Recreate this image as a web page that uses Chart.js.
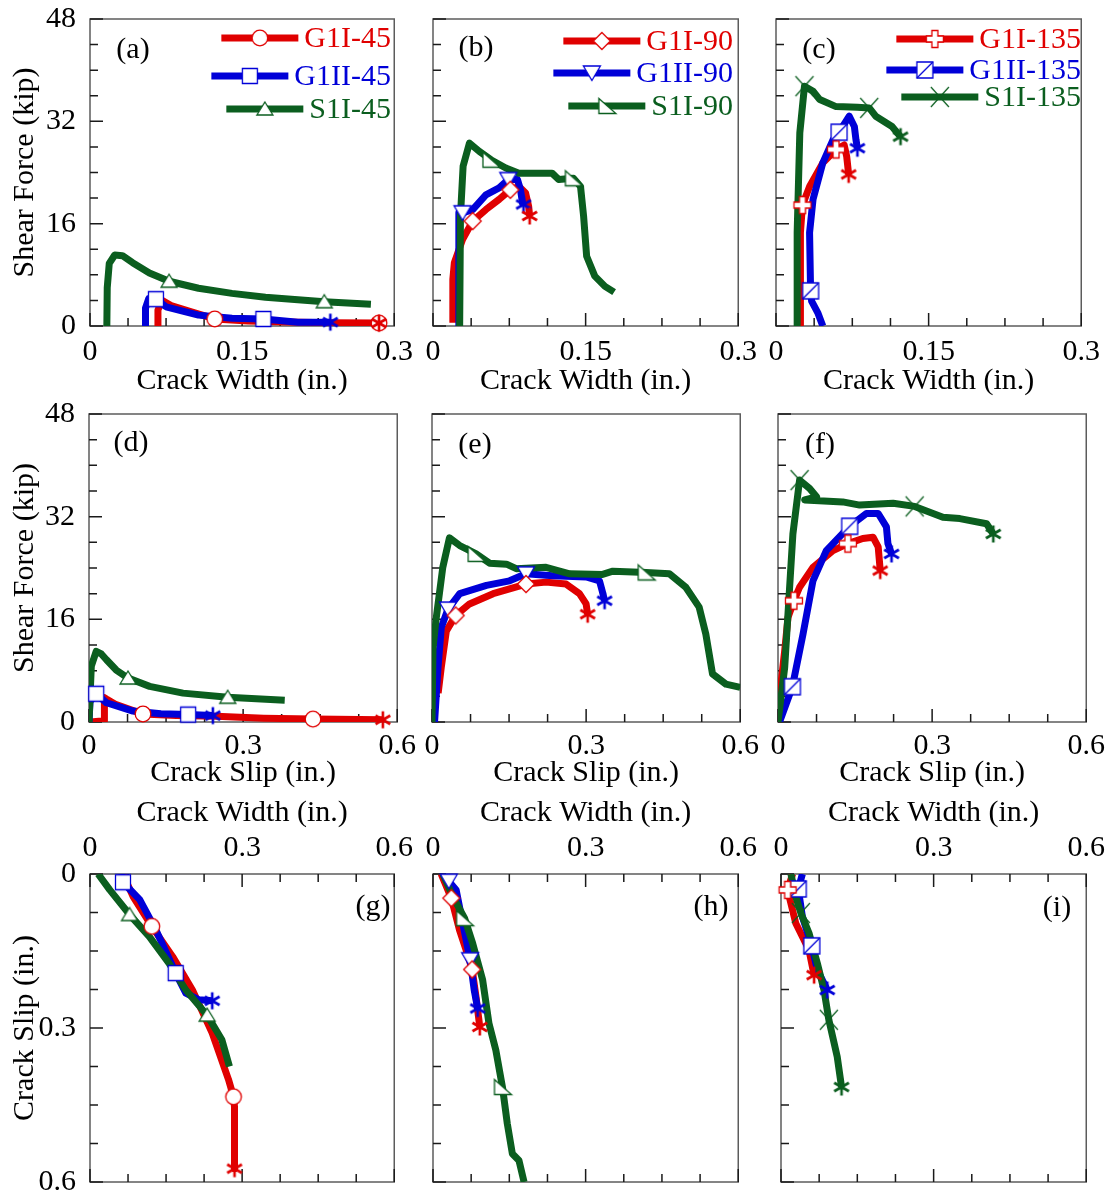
<!DOCTYPE html>
<html><head><meta charset="utf-8">
<script src="https://cdn.jsdelivr.net/npm/chart.js@4.4.0/dist/chart.umd.min.js"></script>
<style>
html,body{margin:0;padding:0;background:#fff;width:1114px;height:1194px;overflow:hidden;position:relative}
canvas{position:absolute}
</style></head><body>
<script>
// ---------- tick labels ----------
const xTicksWidthTop = [0, 0.15, 0.3];
const xTicksWide = [0, 0.3, 0.6];
const yTicksForce = [0, 16, 32, 48];
const yTicksSlip = [0, 0.3, 0.6];

// ---------- legend names ----------
const names45 = ['G1I-45', 'G1II-45', 'S1I-45'];
const names90 = ['G1I-90', 'G1II-90', 'S1I-90'];
const names135 = ['G1I-135', 'G1II-135', 'S1I-135'];

// ---------- (a) shear force vs crack width, 45 ----------
const a_G1I = [[0.067,0],[0.067,2.5],[0.071,4.0],[0.08,3.2],[0.1,2.2],[0.123,1.1],[0.156,0.8],[0.205,0.6],[0.237,0.5],[0.285,0.45]];
const a_G1I_mk = [[0.123,1.1],[0.285,0.45]];
const a_G1II = [[0.0547,0],[0.0547,2.8],[0.058,4.3],[0.065,4.2],[0.075,3.0],[0.107,1.7],[0.14,1.2],[0.171,1.1],[0.205,0.6],[0.237,0.6]];
const a_G1II_mk = [[0.065,4.2],[0.171,1.1]];
const a_S1I = [[0.0166,0],[0.017,6],[0.019,9.8],[0.0244,11.1],[0.032,11.0],[0.042,9.9],[0.0586,8.3],[0.078,7.0],[0.107,5.9],[0.14,5.1],[0.173,4.5],[0.205,4.1],[0.231,3.8],[0.277,3.4]];
const a_S1I_mk = [[0.078,7.0],[0.231,3.8]];

// ---------- (b) 90 ----------
const b_G1I = [[0.0195,0.5],[0.0195,7.3],[0.021,9.9],[0.029,13.5],[0.039,16.4],[0.052,18.2],[0.065,19.8],[0.076,21.3],[0.0845,21.8],[0.091,20.8],[0.094,18.7],[0.095,17.2]];
const b_G1I_mk = [[0.039,16.4],[0.076,21.3]];
const b_G1II = [[0.0254,0],[0.0254,17.7],[0.029,17.7],[0.039,18.2],[0.052,20.5],[0.065,21.6],[0.074,22.9],[0.083,22.9],[0.086,21.3],[0.088,19.2],[0.089,19.0]];
const b_G1II_mk = [[0.029,17.7],[0.074,22.9]];
const b_S1I = [[0.0262,0],[0.027,17.2],[0.0296,25],[0.0358,28.6],[0.0455,27.3],[0.0569,26.0],[0.0715,24.7],[0.0845,23.9],[0.117,23.9],[0.1235,22.9],[0.138,23.1],[0.145,21.8],[0.148,17.2],[0.151,10.9],[0.159,7.8],[0.169,6.2],[0.178,5.3]];
const b_S1I_mk = [[0.0569,26.0],[0.138,23.1]];

// ---------- (c) 135 ----------
const c_G1I = [[0.024,0],[0.024,14.6],[0.026,18.9],[0.033,21.8],[0.046,25.5],[0.059,27.6],[0.067,28.3],[0.0695,26.5],[0.0714,23.7]];
const c_G1I_mk = [[0.026,18.9],[0.059,27.6]];
const c_G1II = [[0.046,0],[0.041,2.1],[0.035,3.9],[0.034,5.5],[0.033,14.6],[0.0364,19.8],[0.046,25.5],[0.056,29.1],[0.062,30.3],[0.072,32.8],[0.077,31.2],[0.0786,29.1],[0.080,27.8]];
const c_G1II_mk = [[0.034,5.5],[0.062,30.3]];
const c_S1I = [[0.0208,0],[0.0208,3.6],[0.0208,14.6],[0.0234,30.2],[0.028,37.5],[0.0364,36.7],[0.043,35.4],[0.059,34.3],[0.08,34.2],[0.0916,34.1],[0.098,32.8],[0.114,31.2],[0.1224,29.6]];
const c_S1I_mk = [[0.028,37.5],[0.0916,34.1]];

// ---------- (d) shear force vs crack slip, 45 ----------
const d_G1I = [[0.003,0],[0.03,0.2],[0.03,3.8],[0.034,3.6],[0.053,2.7],[0.105,1.25],[0.17,1.0],[0.248,0.9],[0.34,0.6],[0.436,0.45],[0.572,0.35]];
const d_G1I_mk = [[0.105,1.25],[0.436,0.45]];
const d_G1II = [[0.0,0],[0.002,3.2],[0.014,4.4],[0.034,3.0],[0.0856,1.7],[0.14,1.3],[0.193,1.15],[0.241,1.0]];
const d_G1II_mk = [[0.014,4.4],[0.193,1.15]];
const d_S1I = [[0.0,0],[0.0045,8.7],[0.014,11.0],[0.024,10.6],[0.034,9.7],[0.053,8.1],[0.076,6.85],[0.118,5.55],[0.183,4.5],[0.27,3.85],[0.381,3.4]];
const d_S1I_mk = [[0.076,6.85],[0.27,3.85]];

// ---------- (e) 90 ----------
const e_G1I = [[0.012,4.5],[0.018,8.5],[0.028,14.2],[0.046,16.6],[0.073,18.4],[0.119,20.0],[0.183,21.5],[0.222,21.8],[0.261,21.5],[0.287,20.0],[0.30,18.4],[0.303,16.8]];
const e_G1I_mk = [[0.046,16.6],[0.183,21.5]];
const e_G1II = [[0.005,0],[0.0117,8.5],[0.018,14.7],[0.031,17.6],[0.054,20.0],[0.106,21.3],[0.151,22.0],[0.183,23.1],[0.235,22.8],[0.30,22.6],[0.326,22.0],[0.331,20.5],[0.336,18.9]];
const e_G1II_mk = [[0.031,17.6],[0.183,23.1]];
const e_S1I = [[0,0],[0.002,11.6],[0.0084,16.3],[0.021,24.1],[0.034,28.7],[0.054,27.5],[0.086,26.2],[0.112,24.75],[0.145,24.6],[0.164,23.9],[0.222,24.1],[0.268,23.1],[0.332,23.0],[0.352,23.5],[0.417,23.3],[0.462,23.1],[0.494,21.0],[0.52,17.9],[0.533,13.7],[0.546,7.5],[0.572,5.9],[0.6,5.4]];
const e_S1I_mk = [[0.086,26.2],[0.417,23.3]];

// ---------- (f) 135 ----------
const f_G1I = [[0,0],[0.002,3.3],[0.013,11.1],[0.0195,16.3],[0.031,18.9],[0.042,21.0],[0.068,24.1],[0.107,26.7],[0.136,27.8],[0.165,28.6],[0.185,28.8],[0.195,27.3],[0.199,23.6]];
const f_G1I_mk = [[0.031,18.9],[0.136,27.8]];
const f_G1II = [[0.003,0],[0.028,5.5],[0.0487,13.7],[0.068,22.0],[0.094,26.7],[0.1395,30.5],[0.172,32.5],[0.195,32.5],[0.211,30.4],[0.214,27.8],[0.221,26.2]];
const f_G1II_mk = [[0.028,5.5],[0.1395,30.5]];
const f_S1I = [[0,0],[0.013,8.5],[0.029,29.3],[0.042,37.7],[0.0616,36.4],[0.075,35.1],[0.052,34.6],[0.126,34.3],[0.159,33.8],[0.224,34.1],[0.266,33.6],[0.321,31.9],[0.354,31.7],[0.406,30.9],[0.419,29.3]];
const f_S1I_mk = [[0.042,37.7],[0.266,33.6]];

// ---------- (g) crack slip vs crack width, 45 ----------
const g_G1I = [[0.065,0],[0.085,0.044],[0.122,0.102],[0.163,0.161],[0.202,0.226],[0.241,0.31],[0.273,0.40],[0.283,0.434],[0.285,0.454],[0.285,0.574]];
const g_G1I_mk = [[0.122,0.102],[0.283,0.434]];
const g_G1II = [[0.062,0],[0.065,0.016],[0.098,0.05],[0.13,0.109],[0.169,0.193],[0.189,0.232],[0.215,0.245],[0.241,0.247]];
const g_G1II_mk = [[0.065,0.016],[0.169,0.193]];
const g_S1I = [[0.016,0],[0.039,0.031],[0.078,0.079],[0.117,0.122],[0.156,0.174],[0.189,0.226],[0.231,0.275],[0.26,0.323],[0.275,0.375]];
const g_S1I_mk = [[0.078,0.079],[0.231,0.275]];

// ---------- (h) 90 ----------
const h_G1I = [[0.016,0],[0.036,0.047],[0.052,0.109],[0.065,0.148],[0.077,0.186],[0.0845,0.239],[0.092,0.298]];
const h_G1I_mk = [[0.036,0.047],[0.077,0.186]];
const h_G1II = [[0.0195,0],[0.031,0.014],[0.0455,0.031],[0.0585,0.096],[0.073,0.167],[0.081,0.226],[0.0878,0.262]];
const h_G1II_mk = [[0.031,0.014],[0.073,0.167]];
const h_S1I = [[0.0195,0],[0.039,0.044],[0.062,0.086],[0.078,0.135],[0.0975,0.206],[0.11,0.291],[0.1235,0.343],[0.1365,0.415],[0.146,0.486],[0.156,0.545],[0.169,0.558],[0.179,0.6]];
const h_S1I_mk = [[0.062,0.086],[0.1365,0.415]];

// ---------- (i) 135 ----------
const i_G1I = [[0.0228,0],[0.013,0.031],[0.029,0.096],[0.055,0.148],[0.065,0.197]];
const i_G1I_mk = [[0.013,0.031]];
const i_G1II = [[0.042,0],[0.034,0.029],[0.042,0.083],[0.0605,0.14],[0.0715,0.187],[0.091,0.226]];
const i_G1II_mk = [[0.034,0.029],[0.0605,0.14]];
const i_S1I = [[0.0195,0],[0.029,0.044],[0.039,0.076],[0.055,0.115],[0.0715,0.174],[0.0845,0.226],[0.094,0.284],[0.1105,0.356],[0.119,0.415]];
const i_S1I_mk = [[0.039,0.076],[0.094,0.284]];

// ---------- styling ----------
const RED = '#e00000', BLUE = '#0000d8', GREEN = '#0b5e1f';
const FAMILY = '"Liberation Serif", "Times New Roman", serif';
const FONT = {family: FAMILY, size: 30, lineHeight: 1.2};

const markerCache = {};
function markerCanvas(shape, color) {
  const key = shape + color;
  if (markerCache[key]) return markerCache[key];
  const s = 26;
  const c = document.createElement('canvas');
  c.width = s; c.height = s;
  const g = c.getContext('2d');
  g.translate(s / 2, s / 2);
  g.strokeStyle = color; g.fillStyle = '#fff'; g.lineWidth = 1.3;
  g.beginPath();
  if (shape === 'circle') { g.arc(0, 0, 7.8, 0, Math.PI * 2); g.fill(); g.stroke(); }
  else if (shape === 'square') { g.rect(-7.5, -7.5, 15, 15); g.fill(); g.stroke(); }
  else if (shape === 'triUp') { g.moveTo(0, -7); g.lineTo(8, 6); g.lineTo(-8, 6); g.closePath(); g.fill(); g.stroke(); }
  else if (shape === 'diamond') { g.moveTo(0, -8.5); g.lineTo(8.5, 0); g.lineTo(0, 8.5); g.lineTo(-8.5, 0); g.closePath(); g.fill(); g.stroke(); }
  else if (shape === 'triDown') { g.moveTo(-8.5, -7); g.lineTo(8.5, -7); g.lineTo(0, 7.5); g.closePath(); g.fill(); g.stroke(); }
  else if (shape === 'triRight') { g.moveTo(-8, -7.5); g.lineTo(-8, 7.5); g.lineTo(9, 7.5); g.closePath(); g.fill(); g.stroke(); }
  else if (shape === 'cross') {
    const a = 3, b = 8.5;
    g.moveTo(-a, -b); g.lineTo(a, -b); g.lineTo(a, -a); g.lineTo(b, -a); g.lineTo(b, a); g.lineTo(a, a);
    g.lineTo(a, b); g.lineTo(-a, b); g.lineTo(-a, a); g.lineTo(-b, a); g.lineTo(-b, -a); g.lineTo(-a, -a); g.closePath();
    g.fill(); g.stroke();
  }
  else if (shape === 'squareDiag') {
    g.rect(-8, -8, 16, 16); g.fill(); g.stroke();
    g.beginPath(); g.moveTo(-8, 8); g.lineTo(8, -8); g.stroke();
  }
  else if (shape === 'x') { g.lineWidth = 1.2; g.moveTo(-9, -10); g.lineTo(9, 10); g.moveTo(9, -10); g.lineTo(-9, 10); g.stroke(); }
  else if (shape === 'ast') {
    g.lineWidth = 2.6; g.lineCap = 'butt';
    for (let k = 0; k < 3; k++) {
      const ang = Math.PI / 2 + k * Math.PI / 3;
      g.moveTo(Math.cos(ang) * 8.5, Math.sin(ang) * 8.5);
      g.lineTo(-Math.cos(ang) * 8.5, -Math.sin(ang) * 8.5);
    }
    g.stroke();
  }
  markerCache[key] = c;
  return c;
}

const ROWS = [
  {MT: 32, MB: 73, xTop: false, xmax: 0.3, xstep: 0.0375, xlabels: xTicksWidthTop, xtitle: 'Crack Width (in.)', xpad: 8,
   ymax: 48, ystep: 4, ylabels: yTicksForce, ytitle: 'Shear Force (kip)', rev: false},
  {MT: 32, MB: 69, xTop: false, xmax: 0.6, xstep: 0.075, xlabels: xTicksWide, xtitle: 'Crack Slip (in.)', xpad: 6,
   ymax: 48, ystep: 4, ylabels: yTicksForce, ytitle: 'Shear Force (kip)', rev: false},
  {MT: 79, MB: 40, xTop: true, xmax: 0.6, xstep: 0.075, xlabels: xTicksWide, xtitle: 'Crack Width (in.)', xpad: 8,
   ymax: 0.6, ystep: 0.075, ylabels: yTicksSlip, ytitle: 'Crack Slip (in.)', rev: true}
];
const SHAPES = [['circle', 'square', 'triUp'], ['diamond', 'triDown', 'triRight'], ['cross', 'squareDiag', 'x']];
const NAMES = [names45, names90, names135];
const COLORS = [RED, BLUE, GREEN];

const panels = [
  {label: '(a)', row: 1, col: 1, plot: [90, 19, 397, 326], lab: [133, 50], leg: {right: 391, rows: [38, 76, 109]},
   s: [[a_G1I, a_G1I_mk], [a_G1II, a_G1II_mk], [a_S1I, a_S1I_mk]]},
  {label: '(b)', row: 1, col: 2, plot: [433, 19, 741, 326], lab: [476, 48], leg: {right: 733, rows: [41, 73, 106]},
   s: [[b_G1I, b_G1I_mk], [b_G1II, b_G1II_mk], [b_S1I, b_S1I_mk]]},
  {label: '(c)', row: 1, col: 3, plot: [776, 19, 1084, 326], lab: [819, 50], leg: {right: 1081, rows: [39, 70, 97]},
   s: [[c_G1I, c_G1I_mk], [c_G1II, c_G1II_mk], [c_S1I, c_S1I_mk]]},
  {label: '(d)', row: 2, col: 1, plot: [89, 414, 398, 722], lab: [131, 443],
   s: [[d_G1I, d_G1I_mk], [d_G1II, d_G1II_mk], [d_S1I, d_S1I_mk]]},
  {label: '(e)', row: 2, col: 2, plot: [432, 414, 741, 722], lab: [475, 445],
   s: [[e_G1I, e_G1I_mk], [e_G1II, e_G1II_mk], [e_S1I, e_S1I_mk]]},
  {label: '(f)', row: 2, col: 3, plot: [778, 414, 1087, 722], lab: [820, 445],
   s: [[f_G1I, f_G1I_mk], [f_G1II, f_G1II_mk], [f_S1I, f_S1I_mk]]},
  {label: '(g)', row: 3, col: 1, plot: [90, 874, 397, 1182], lab: [373, 907],
   s: [[g_G1I, g_G1I_mk], [g_G1II, g_G1II_mk], [g_S1I, g_S1I_mk]]},
  {label: '(h)', row: 3, col: 2, plot: [433, 874, 741, 1182], lab: [711, 907],
   s: [[h_G1I, h_G1I_mk], [h_G1II, h_G1II_mk], [h_S1I, h_S1I_mk]]},
  {label: '(i)', row: 3, col: 3, plot: [781, 874, 1089, 1182], lab: [1057, 908],
   s: [[i_G1I, i_G1I_mk], [i_G1II, i_G1II_mk], [i_S1I, i_S1I_mk]]}
];

function isLabel(v, list) { return list.find(t => Math.abs(t - v) < 1e-6); }

const framePlugin = {
  id: 'frame',
  beforeDatasetsDraw(chart, args, o) {
    const {ctx, chartArea: {left, top, right, bottom}} = chart;
    const xs = chart.scales.x, ys = chart.scales.y;
    ctx.save();
    ctx.strokeStyle = '#5c5c5c'; ctx.lineWidth = 1.5;
    ctx.strokeRect(left, top, right - left, bottom - top);
    ctx.strokeStyle = '#1a1a1a'; ctx.lineWidth = 1.5;
    ctx.beginPath();
    ys.ticks.forEach(t => {
      const p = ys.getPixelForValue(t.value); const L = t.label ? 13 : 8;
      ctx.moveTo(left, p); ctx.lineTo(left + L, p);
    });
    xs.ticks.forEach(t => {
      const p = xs.getPixelForValue(t.value); const L = t.label ? 13 : 8;
      ctx.moveTo(p, bottom); ctx.lineTo(p, bottom - L);
      if (o.topTicks) { ctx.moveTo(p, top); ctx.lineTo(p, top + L); }
    });
    ctx.stroke();
    ctx.restore();
  },
  afterDraw(chart, args, o) {
    const ctx = chart.ctx;
    ctx.save();
    ctx.font = '30px ' + FAMILY;
    ctx.textBaseline = 'middle';
    ctx.fillStyle = '#000';
    ctx.textAlign = 'center';
    ctx.fillText(o.label, o.lab[0] - o.ox, o.lab[1] - o.oy);
    if (o.leg) {
      o.names.forEach((nm, k) => {
        const y = o.leg.rows[k] - o.oy;
        const xr = o.leg.right - o.ox;
        const w = ctx.measureText(nm).width;
        const x1 = xr - w - 6, x0 = x1 - 77;
        ctx.strokeStyle = COLORS[k]; ctx.lineWidth = 7;
        ctx.beginPath(); ctx.moveTo(x0, y); ctx.lineTo(x1, y); ctx.stroke();
        const img = markerCanvas(o.shapes[k], COLORS[k]);
        ctx.drawImage(img, (x0 + x1) / 2 - img.width / 2, y - img.height / 2);
        ctx.fillStyle = COLORS[k]; ctx.textAlign = 'right';
        ctx.fillText(nm, xr, y + 1);
      });
    }
    ctx.restore();
  }
};

const toXY = arr => arr.map(p => ({x: p[0], y: p[1]}));

panels.forEach(p => {
  const R = ROWS[p.row - 1];
  const [l, t, r, b] = p.plot;
  const ML = p.col === 1 ? l : 20, MR = 24;
  const W = ML + (r - l) + MR, H = R.MT + (b - t) + R.MB;
  const ox = l - ML, oy = t - R.MT;
  const cv = document.createElement('canvas');
  cv.width = W; cv.height = H;
  cv.style.left = ox + 'px'; cv.style.top = oy + 'px';
  cv.style.width = W + 'px'; cv.style.height = H + 'px';
  document.body.appendChild(cv);

  const datasets = [];
  const shapes = SHAPES[p.col - 1];
  p.s.forEach((ser, k) => {
    const [pts, mk] = ser;
    datasets.push({data: toXY(pts), showLine: true, borderColor: COLORS[k], borderWidth: 7,
      pointRadius: 0, borderJoinStyle: 'round', tension: 0, order: 30 - k * 10});
    datasets.push({data: toXY(mk), showLine: false, pointStyle: markerCanvas(shapes[k], COLORS[k]),
      pointRadius: 8, order: 2, clip: 20});
    const hasEnd = k < 2 || p.col === 3;
    if (hasEnd) {
      const last = pts[pts.length - 1];
      datasets.push({data: toXY([last]), showLine: false, pointStyle: markerCanvas('ast', COLORS[k]),
        pointRadius: 8, order: 1, clip: 20});
    }
  });

  new Chart(cv, {
    type: 'scatter',
    data: {datasets},
    options: {
      responsive: false, animation: false, devicePixelRatio: 1,
      layout: {padding: {left: 0, right: MR, top: R.xTop ? 0 : R.MT, bottom: R.xTop ? R.MB : 0}},
      plugins: {
        legend: {display: false}, tooltip: {enabled: false},
        frame: {topTicks: R.xTop, label: p.label, lab: p.lab, ox, oy,
          leg: p.leg, names: NAMES[p.col - 1], shapes}
      },
      scales: {
        x: {
          type: 'linear', position: R.xTop ? 'top' : 'bottom', min: 0, max: R.xmax,
          ticks: {stepSize: R.xstep, autoSkip: false, maxRotation: 0, maxTicksLimit: 30, padding: R.xpad,
            font: FONT, color: '#000',
            callback: v => { const m = isLabel(v, R.xlabels); return m !== undefined ? String(m) : ''; }},
          grid: {display: false, drawTicks: false},
          border: {display: false},
          title: {display: true, text: R.xtitle, font: FONT, color: '#000', padding: {top: 0, bottom: 0}},
          afterFit: s => { s.height = R.xTop ? R.MT : R.MB; }
        },
        y: {
          type: 'linear', position: 'left', min: 0, max: R.ymax, reverse: R.rev,
          ticks: {display: p.col === 1, stepSize: R.ystep, autoSkip: false, maxTicksLimit: 30, padding: 14,
            font: FONT, color: '#000',
            callback: v => { const m = isLabel(v, R.ylabels); return m !== undefined ? String(m) : ''; }},
          grid: {display: false, drawTicks: false},
          border: {display: false},
          title: {display: p.col === 1, text: R.ytitle, font: FONT, color: '#000', padding: {top: 7, bottom: 0}},
          afterFit: s => { s.width = ML; }
        }
      }
    },
    plugins: [framePlugin]
  });
});
</script>
</body></html>
